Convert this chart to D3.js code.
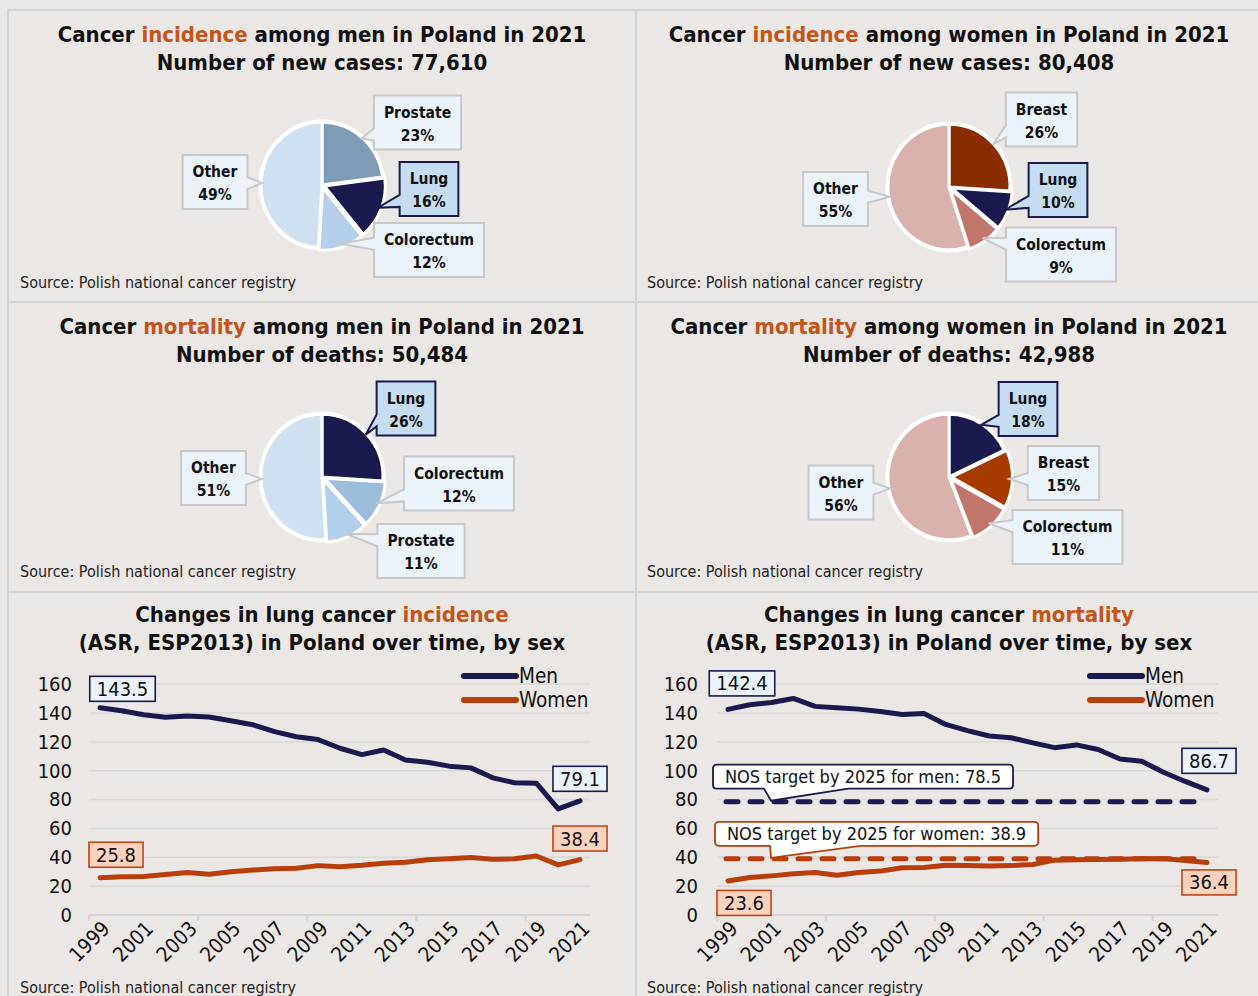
<!DOCTYPE html>
<html><head><meta charset="utf-8">
<script src="https://cdn.jsdelivr.net/npm/d3@7"></script>
<style>
body{margin:0;background:#ebe7e4;}
svg{display:block;}
text{font-family:'DejaVu Sans Condensed','DejaVu Sans',sans-serif;}
</style></head><body>
<svg id="c" width="1258" height="996"></svg>
<script>
// ---------------- DATA ----------------
const menIncCats = ["Prostate", "Lung", "Colorectum", "Other"];
const menIncVals = [23, 16, 12, 49];
const womenIncCats = ["Breast", "Lung", "Colorectum", "Other"];
const womenIncVals = [26, 10, 9, 55];
const menMortCats = ["Lung", "Colorectum", "Prostate", "Other"];
const menMortVals = [26, 12, 11, 51];
const womenMortCats = ["Lung", "Breast", "Colorectum", "Other"];
const womenMortVals = [18, 15, 11, 56];

const years = [1999,2000,2001,2002,2003,2004,2005,2006,2007,2008,2009,2010,2011,2012,2013,2014,2015,2016,2017,2018,2019,2020,2021];
const yearTickLabels = [1999,2001,2003,2005,2007,2009,2011,2013,2015,2017,2019,2021];
const yTicks = [0,20,40,60,80,100,120,140,160];

const incidenceMen   = [143.5,141.5,138.7,136.9,137.8,137.1,134.6,131.8,127.0,123.5,121.5,115.5,111.1,114.3,107.4,105.8,103.1,101.9,95.0,91.6,91.3,73.5,79.1];
const incidenceWomen = [25.8,26.5,26.7,28.1,29.4,28.3,29.9,31.1,32.0,32.4,34.2,33.5,34.5,35.9,36.6,38.2,38.9,39.8,38.6,38.9,40.9,34.7,38.4];
const mortalityMen   = [142.4,145.6,147.2,150.0,144.5,143.5,142.6,141.0,138.9,139.6,132.0,127.7,124.0,122.8,119.2,115.9,117.8,114.6,108.1,106.5,98.9,92.5,86.7];
const mortalityWomen = [23.6,26.0,27.1,28.5,29.4,27.6,29.4,30.4,32.7,32.9,34.5,34.2,34.0,34.2,35.0,38.0,38.2,38.4,38.6,38.9,39.1,37.7,36.4];

const targetMen = 78.5;
const targetWomen = 38.9;

// ---------------- STYLE ----------------
const NAVY = "#1a1a4e", RUST = "#b83e0b", ACCENT = "#c4551a";
const FONT = "'DejaVu Sans Condensed','DejaVu Sans',sans-serif";
const svg = d3.select("#c");

// panel frame
const frame = svg.append("g").attr("stroke", "#d3d3d3").attr("stroke-width", 2).attr("fill", "none");
frame.append("rect").attr("x", 8).attr("y", 10).attr("width", 1260).attr("height", 1000);
frame.append("line").attr("x1", 636).attr("x2", 636).attr("y1", 10).attr("y2", 996);
frame.append("line").attr("x1", 8).attr("x2", 1258).attr("y1", 302).attr("y2", 302);
frame.append("line").attr("x1", 8).attr("x2", 1258).attr("y1", 592).attr("y2", 592);

function title(cx, y, parts, size) {
  const t = svg.append("text").attr("x", cx).attr("y", y).attr("text-anchor", "middle")
    .attr("font-size", size).attr("font-weight", "bold").attr("fill", "#111");
  parts.forEach(p => t.append("tspan").text(p[0]).attr("fill", p[1] ? ACCENT : "#111"));
}
function source(x, y) {
  svg.append("text").attr("x", x).attr("y", y).attr("font-size", 16).attr("fill", "#222")
    .text("Source: Polish national cancer registry");
}

// ---------- callout path ----------
function calloutPath(x0, y0, w, h, rad, tip, half, fr) {
  const x1 = x0 + w, y1 = y0 + h;
  let side;
  if (tip[0] < x0) side = "left"; else if (tip[0] > x1) side = "right";
  else if (tip[1] > y1) side = "bottom"; else side = "top";
  let b1, b2;
  if (side === "left" || side === "right") {
    const c = Math.max(y0 + h * 0.3, Math.min(y0 + h * 0.72, tip[1]));
    b1 = c - half; b2 = c + half;
  } else {
    b1 = x0 + w * (fr ? fr[0] : 0.3); b2 = x0 + w * (fr ? fr[1] : 0.6);
  }
  let p = `M${x0 + rad},${y0}`;
  if (side === "top") p += `L${b1},${y0}L${tip[0]},${tip[1]}L${b2},${y0}`;
  p += `L${x1 - rad},${y0}Q${x1},${y0} ${x1},${y0 + rad}`;
  if (side === "right") p += `L${x1},${b1}L${tip[0]},${tip[1]}L${x1},${b2}`;
  p += `L${x1},${y1 - rad}Q${x1},${y1} ${x1 - rad},${y1}`;
  if (side === "bottom") p += `L${b2},${y1}L${tip[0]},${tip[1]}L${b1},${y1}`;
  p += `L${x0 + rad},${y1}Q${x0},${y1} ${x0},${y1 - rad}`;
  if (side === "left") p += `L${x0},${b2}L${tip[0]},${tip[1]}L${x0},${b1}`;
  p += `L${x0},${y0 + rad}Q${x0},${y0} ${x0 + rad},${y0}Z`;
  return p;
}

// ---------------- PIES ----------------
const pieColors = {
  menInc: {Prostate: "#7f9cb7", Lung: NAVY, Colorectum: "#b4cfe9", Other: "#cfe0f1"},
  womenInc: {Breast: "#8a2d00", Lung: NAVY, Colorectum: "#c1766b", Other: "#d9b2ae"},
  menMort: {Lung: NAVY, Colorectum: "#9bbcda", Prostate: "#b4cfe9", Other: "#cfe0f1"},
  womenMort: {Lung: NAVY, Breast: "#a83a00", Colorectum: "#c1766b", Other: "#d9b2ae"}
};
// label box centre offsets relative to pie centre (layout only)
const boxOffsets = {
  menInc: [[95.5, -62.5], [107, 4], [107, 65], [-107, -3]],
  womenInc: [[92.5, -67.5], [109, 3], [112, 67.5], [-113.5, 12]],
  menMort: [[84, -68.5], [137, 6.5], [99, 74], [-108.5, 1]],
  womenMort: [[79, -68], [114.5, -4], [118.5, 60], [-108, 15.5]]
};

function drawPie(cx, cy, cats, vals, key) {
  const r = 61, sy = 1.03;
  const colors = pieColors[key];
  const pie = d3.pie().sort(null).value(d => d.v);
  const arcs = pie(cats.map((c, i) => ({c, v: vals[i]})));
  const arc = d3.arc().innerRadius(0).outerRadius(r);
  const g = svg.append("g").attr("transform", `translate(${cx},${cy}) scale(1,${sy})`);
  g.append("circle").attr("r", r + 2.5).attr("fill", "#fff");
  g.selectAll("path").data(arcs).join("path")
    .attr("transform", (d, i) => {
      if (i === 1 || i === 2) {
        const a = (d.startAngle + d.endAngle) / 2;
        return `translate(${2.5 * Math.sin(a)},${-2.5 * Math.cos(a)})`;
      }
      return null;
    })
    .attr("d", arc).attr("fill", d => colors[d.data.c])
    .attr("stroke", "#fff").attr("stroke-width", 3).attr("stroke-linejoin", "round");

  // labels
  arcs.forEach((d, i) => {
    const a = (d.startAngle + d.endAngle) / 2;
    const tip = [cx + (r - 1) * Math.sin(a), cy - (r - 1) * Math.cos(a) * sy];
    const off = boxOffsets[key][i];
    const lg = svg.append("g");
    const t1 = lg.append("text").attr("text-anchor", "middle").attr("font-size", 15.5)
      .attr("font-weight", "bold").attr("fill", "#111")
      .attr("x", cx + off[0]).attr("y", cy + off[1] - 5).text(d.data.c);
    lg.append("text").attr("text-anchor", "middle").attr("font-size", 15.5)
      .attr("font-weight", "bold").attr("fill", "#111")
      .attr("x", cx + off[0]).attr("y", cy + off[1] + 18).text(d.data.v + "%");
    const tw = t1.node().getComputedTextLength();
    const w = Math.max(tw, 30) + 20, h = 54;
    const isLung = d.data.c === "Lung";
    lg.insert("path", "text")
      .attr("d", calloutPath(cx + off[0] - w / 2, cy + off[1] - h / 2, w, h, 0, tip, 6))
      .attr("fill", isLung ? "#c6ddf1" : "#eaf2fa")
      .attr("stroke", isLung ? NAVY : "#c8c8c8").attr("stroke-width", 2)
      .attr("stroke-linejoin", "miter");
  });
}

title(322, 42, [["Cancer "], ["incidence", 1], [" among men in Poland in 2021"]], 22);
title(322, 70, [["Number of new cases: 77,610"]], 22);
drawPie(322, 185, menIncCats, menIncVals, "menInc");
source(20, 288);

title(949, 42, [["Cancer "], ["incidence", 1], [" among women in Poland in 2021"]], 22);
title(949, 70, [["Number of new cases: 80,408"]], 22);
drawPie(949, 187, womenIncCats, womenIncVals, "womenInc");
source(647, 288);

title(322, 334, [["Cancer "], ["mortality", 1], [" among men in Poland in 2021"]], 22);
title(322, 362, [["Number of deaths: 50,484"]], 22);
drawPie(322, 477, menMortCats, menMortVals, "menMort");
source(20, 577);

title(949, 334, [["Cancer "], ["mortality", 1], [" among women in Poland in 2021"]], 22);
title(949, 362, [["Number of deaths: 42,988"]], 22);
drawPie(949, 477, womenMortCats, womenMortVals, "womenMort");
source(647, 577);

// ---------------- LINE CHARTS ----------------
function lineChart(opt) {
  const x = d3.scalePoint().domain(years).range([opt.x0, opt.x1]);
  const step = x.step();
  const y = d3.scaleLinear().domain([0, 160]).range([915, 684]);
  const gl = opt.x0 - step / 2, gr = opt.x1 + step / 2;
  const g = svg.append("g");
  // grid
  g.selectAll(".grid").data(yTicks.filter(v => v > 0)).join("line")
    .attr("x1", gl).attr("x2", gr).attr("y1", d => y(d)).attr("y2", d => y(d))
    .attr("stroke", "#d8d8d8").attr("stroke-width", 1.5);
  // y axis labels
  const ya = d3.axisLeft(y).tickValues(yTicks).tickSize(0).tickPadding(0);
  const yg = g.append("g").attr("transform", `translate(${opt.yLab},0)`).call(ya);
  yg.select(".domain").remove();
  yg.selectAll("text").attr("font-size", 20).attr("font-family", FONT).attr("fill", "#111");
  // x axis baseline and ticks
  g.append("line").attr("x1", gl).attr("x2", gr).attr("y1", y(0)).attr("y2", y(0))
    .attr("stroke", "#d3d3d3").attr("stroke-width", 2);
  g.selectAll(".xt").data(years.filter((v, i) => i % 5 === 0)).join("line")
    .attr("x1", d => x(d) - step / 2).attr("x2", d => x(d) - step / 2)
    .attr("y1", y(0)).attr("y2", y(0) + 6).attr("stroke", "#d3d3d3").attr("stroke-width", 2);
  g.selectAll(".xl").data(yearTickLabels).join("text")
    .attr("transform", d => `translate(${x(d) + 11},${930}) rotate(-45)`)
    .attr("text-anchor", "end").attr("font-size", 20.5).attr("fill", "#111").text(d => d);

  // target lines
  if (opt.targets) {
    opt.targets.forEach(tg => {
      g.append("line").attr("x1", opt.x0 - 2).attr("x2", opt.x1 - 9)
        .attr("y1", y(tg.v)).attr("y2", y(tg.v)).attr("stroke", tg.color)
        .attr("stroke-width", 5).attr("stroke-dasharray", "12,12").attr("stroke-linecap", "round");
    });
  }
  // lines
  const line = d3.line().x((d, i) => x(years[i])).y(d => y(d));
  [[opt.women, RUST], [opt.men, NAVY]].forEach(s => {
    g.append("path").datum(s[0]).attr("d", line).attr("fill", "none")
      .attr("stroke", s[1]).attr("stroke-width", 5).attr("stroke-linejoin", "round").attr("stroke-linecap", "round");
  });
  // target callouts
  if (opt.targets) {
    opt.targets.forEach(tg => {
      const tip = [x(years[2]) - 0.5, y(tg.v) - 1];
      const tx = opt.x0 - 15 + tg.bx;
      const t = g.append("text").attr("x", tx + 12).attr("y", y(tg.v) + tg.by + 6.5)
        .attr("font-size", 18).attr("fill", "#111").text(tg.label);
      const w = t.node().getComputedTextLength() + 24;
      g.insert("path", function () { return t.node(); })
        .attr("d", calloutPath(tx, y(tg.v) + tg.by - 12, w, 24, 4, tip, 0, [0.17, 0.45]))
        .attr("fill", "#fff").attr("stroke", tg.color).attr("stroke-width", 1.8);
    });
  }
  // value labels
  opt.labels.forEach(l => {
    const vals = l.s === "men" ? opt.men : opt.women;
    const idx = l.end ? vals.length - 1 : 0;
    const px = x(years[idx]) + l.dx, py = y(vals[idx]) + l.dy;
    const t = g.append("text").attr("x", px).attr("y", py + 7).attr("text-anchor", "middle")
      .attr("font-size", 20).attr("fill", "#111").text(vals[idx].toFixed(1));
    const w = t.node().getComputedTextLength() + 14;
    const men = l.s === "men";
    g.insert("rect", function () { return t.node(); })
      .attr("x", px - w / 2).attr("y", py - 12.5).attr("width", w).attr("height", 25)
      .attr("fill", men ? "#eaf3fb" : "#fcd3bf").attr("stroke", men ? NAVY : "#c0461a").attr("stroke-width", 1.6);
  });
  // legend
  [["Men", NAVY, 676], ["Women", RUST, 700]].forEach(l => {
    g.append("line").attr("x1", opt.legX).attr("x2", opt.legX + 52).attr("y1", l[2]).attr("y2", l[2])
      .attr("stroke", l[1]).attr("stroke-width", 6).attr("stroke-linecap", "round");
    g.append("text").attr("x", opt.legX + 55).attr("y", l[2] + 7).attr("font-size", 20.5)
      .attr("fill", "#111").text(l[0]);
  });
}

title(322, 622, [["Changes in lung cancer "], ["incidence", 1]], 22);
title(322, 650, [["(ASR, ESP2013) in Poland over time, by sex"]], 22);
lineChart({
  x0: 100, x1: 580, yLab: 72, legX: 464,
  men: incidenceMen, women: incidenceWomen,
  labels: [
    {s: "men", end: false, dx: 22.5, dy: -19},
    {s: "women", end: false, dx: 16, dy: -23},
    {s: "men", end: true, dx: 0, dy: -22},
    {s: "women", end: true, dx: 0, dy: -21}
  ]
});
source(20, 993);

title(949, 622, [["Changes in lung cancer "], ["mortality", 1]], 22);
title(949, 650, [["(ASR, ESP2013) in Poland over time, by sex"]], 22);
lineChart({
  x0: 728, x1: 1207, yLab: 698, legX: 1090,
  men: mortalityMen, women: mortalityWomen,
  targets: [
    {v: targetMen, color: NAVY, label: "NOS target by 2025 for men: " + targetMen, bx: 0, by: -25},
    {v: targetWomen, color: RUST, label: "NOS target by 2025 for women: " + targetWomen, bx: 2, by: -25}
  ],
  labels: [
    {s: "men", end: false, dx: 14, dy: -26},
    {s: "women", end: false, dx: 16, dy: 22},
    {s: "men", end: true, dx: 2, dy: -29},
    {s: "women", end: true, dx: 2, dy: 20}
  ]
});
source(647, 993);
</script>
</body></html>
